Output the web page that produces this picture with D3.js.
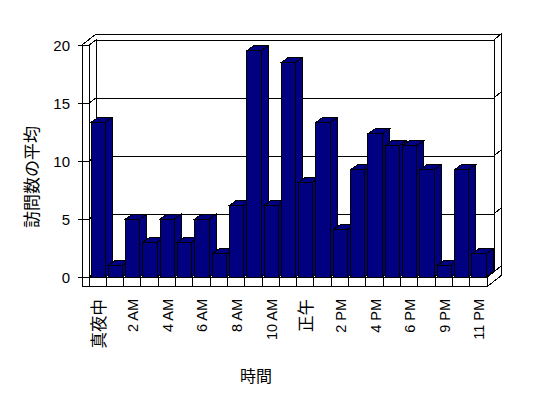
<!DOCTYPE html>
<html>
<head>
<meta charset="utf-8">
<script src="https://d3js.org/d3.v7.min.js"></script>
<style>
  body { margin: 0; background: #fff; }
  text { font-family: "Liberation Sans", Arial, "Noto Sans CJK JP", sans-serif; fill: #000; }
</style>
</head>
<body>
<svg width="548" height="398"></svg>
<script>
// hours of the day (8 PM is missing in the source data)
var hours = ["真夜中", "1 AM", "2 AM", "3 AM", "4 AM", "5 AM", "6 AM", "7 AM", "8 AM", "9 AM",
             "10 AM", "11 AM", "正午", "1 PM", "2 PM", "3 PM", "4 PM", "5 PM", "6 PM", "7 PM",
             "9 PM", "10 PM", "11 PM"];
var visits = [13.33, 1, 5, 3, 5, 3, 5, 2, 6.17, 19.5, 6.17, 18.5, 8.17, 13.33, 4.08, 9.25,
              12.33, 11.33, 11.33, 9.25, 1, 9.25, 2];
var yTicks = [0, 5, 10, 15, 20];
var yTitle = "訪問数の平均";
var xTitle = "時間";

var svg = d3.select("svg");

var xs = d3.scaleBand().domain(hours).range([89, 487]);
var ys = d3.scaleLinear().domain([0, 20]).range([277, 45]);

// depth of the plot box and thickness of the back wall
var dx = 7, dy = -5;
var bx = 7, by = -6;
var floorBottom = 286.7;
var left = 82;
var right = xs.range()[1];

function pts(a) { return a.map(function(p) { return p.join(","); }).join(" "); }

var walls = svg.append("g")
    .attr("fill", "#fff")
    .attr("stroke", "#000")
    .attr("stroke-width", 1)
    .attr("shape-rendering", "crispEdges");

// back wall (front face + top + right side)
walls.append("polygon").attr("points", pts([
    [89 + dx, ys(20) + dy], [right + dx, ys(20) + dy], [right + dx, ys(0) + dy], [89 + dx, ys(0) + dy]]));
walls.append("polygon").attr("points", pts([
    [left, ys(20)], [left + dx + bx, ys(20) + dy + by], [right + dx + bx, ys(20) + dy + by],
    [right + dx, ys(20) + dy], [89 + dx, ys(20) + dy], [89, ys(20)]]));
walls.append("polygon").attr("points", pts([
    [right + dx, ys(20) + dy], [right + dx + bx, ys(20) + dy + by],
    [right + dx + bx, floorBottom + dy + by], [right, floorBottom], [right, ys(0)], [right + dx, ys(0) + dy]]));
// left wall inner face
walls.append("polygon").attr("points", pts([
    [89, ys(20)], [89 + dx, ys(20) + dy], [89 + dx, ys(0) + dy], [89, ys(0)]]));
// left wall front edge
walls.append("polygon").attr("points", pts([
    [left, ys(20)], [89, ys(20)], [89, floorBottom], [left, floorBottom]]));
// floor front face
walls.append("polygon").attr("points", pts([
    [89, ys(0)], [right, ys(0)], [right, floorBottom], [89, floorBottom]]));

// gridlines running round the walls
var grid = svg.append("g")
    .attr("stroke", "#000")
    .attr("fill", "none")
    .attr("shape-rendering", "crispEdges");
grid.selectAll("polyline")
    .data(yTicks)
    .enter()
    .append("polyline")
        .attr("points", function(d) {
            return pts([[left - 4, ys(d)], [89, ys(d)], [89 + dx, ys(d) + dy],
                        [right + dx, ys(d) + dy], [right + dx + bx, ys(d) + dy + by]]);
        });

// category ticks on the floor front
grid.selectAll("line")
    .data(hours.slice(1))
    .enter()
    .append("line")
        .attr("x1", function(d) { return xs(d); })
        .attr("x2", function(d) { return xs(d); })
        .attr("y1", ys(0))
        .attr("y2", floorBottom);

// 3d columns, drawn left to right so each front hides the previous side
var bw = xs.bandwidth() - 3;
var bars = svg.append("g")
    .attr("fill", "#000080")
    .attr("stroke", "#000")
    .attr("shape-rendering", "crispEdges");

bars.selectAll("g")
    .data(visits)
    .enter()
    .append("g")
    .each(function(d, i) {
        var x0 = xs(hours[i]) + 2;
        var x1 = x0 + bw;
        var y0 = ys(0);
        var y1 = ys(d);
        var g = d3.select(this);
        g.append("polygon").attr("points", pts([
            [x1, y1], [x1 + dx, y1 + dy], [x1 + dx, y0 + dy], [x1, y0]]));
        g.append("polygon").attr("points", pts([
            [x0, y1], [x0 + dx, y1 + dy], [x1 + dx, y1 + dy], [x1, y1]]));
        g.append("rect")
            .attr("x", x0)
            .attr("y", y1)
            .attr("width", bw)
            .attr("height", y0 - y1);
    });

// y tick labels
svg.append("g")
    .selectAll("text")
    .data(yTicks)
    .enter()
    .append("text")
        .attr("x", 70)
        .attr("y", function(d) { return ys(d); })
        .attr("text-anchor", "end")
        .attr("dominant-baseline", "central")
        .style("font-size", "15px")
        .text(function(d) { return d; });

// every second hour label, rotated
svg.append("g")
    .selectAll("text")
    .data(hours.filter(function(d, i) { return i % 2 == 0; }))
    .enter()
    .append("text")
        .attr("transform", function(d) {
            return "translate(" + (xs(d) + xs.bandwidth() / 2 + 1) + ",299) rotate(-90)";
        })
        .attr("text-anchor", "end")
        .attr("dominant-baseline", "central")
        .style("font-size", function(d) { return /[AP]M/.test(d) ? "14.5px" : "16.5px"; })
        .text(function(d) { return d; });

svg.append("text")
    .attr("transform", "translate(32,177) rotate(-90)")
    .attr("text-anchor", "middle")
    .attr("dominant-baseline", "central")
    .style("font-size", "17px")
    .text(yTitle);

svg.append("text")
    .attr("x", 256)
    .attr("y", 376)
    .attr("text-anchor", "middle")
    .attr("dominant-baseline", "central")
    .style("font-size", "16px")
    .text(xTitle);
</script>
</body>
</html>
